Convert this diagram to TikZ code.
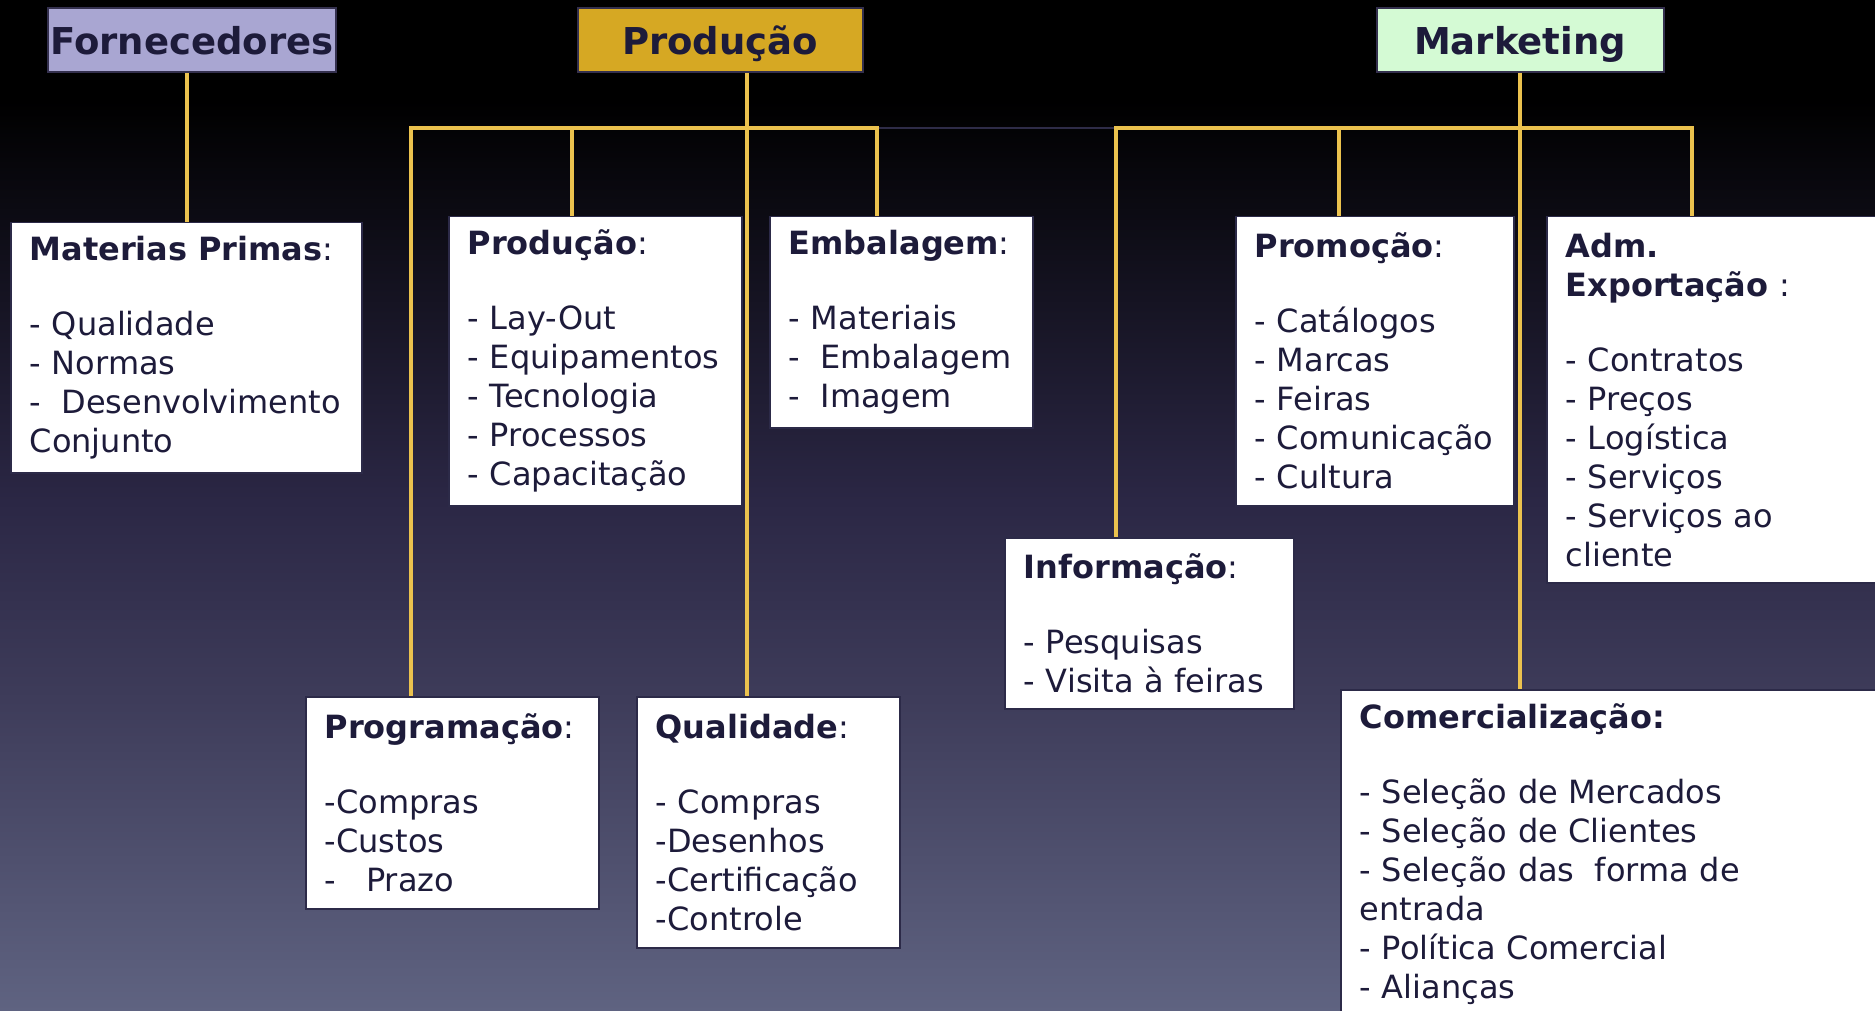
\documentclass[tikz,border=0pt]{standalone}
\usepackage{fontspec}
\setmainfont{DejaVu Sans}
\definecolor{ink}{HTML}{1D1B3A}
\definecolor{boxedge}{HTML}{2C2A48}
\definecolor{titleedge}{HTML}{34304E}
\definecolor{fornfill}{HTML}{A9A6D2}
\definecolor{prodfill}{HTML}{D6A823}
\definecolor{mktfill}{HTML}{D4FAD4}
\definecolor{linkyellow}{HTML}{EBC24E}
\definecolor{gapnavy}{HTML}{2E2C48}
\definecolor{bgtop}{HTML}{2B2745}
\definecolor{bgmid}{HTML}{3E3C5A}
\definecolor{bgbot}{HTML}{5F6381}
\pgfdeclareverticalshading{bgshade}{100bp}{color(0bp)=(bgbot); color(25bp)=(bgbot); color(40.4bp)=(bgmid); color(50.2bp)=(bgtop); color(70bp)=(black); color(100bp)=(black)}
\tikzset{
    title-box/.style = {draw=titleedge, line width=2pt, minimum height=64pt, inner sep=0pt, text height=34pt, text depth=4pt, text=ink, font=\fontsize{37}{40}\selectfont\bfseries},
    item-box/.style = {draw=boxedge, line width=1.5pt, fill=white, anchor=north west, align=left, inner xsep=19pt, inner ysep=0pt, text=ink, font=\fontsize{32}{39}\selectfont, execute at begin node={\hyphenpenalty=10000\exhyphenpenalty=10000}},
    link-line/.style = {draw=linkyellow, line width=4pt},
}

\begin{document}
\begin{tikzpicture}[x=1pt, y=-1pt]
\clip (0,0) rectangle (1875,1011);
\shade[shading=bgshade] (0,0) rectangle (1875,1011);

\node[title-box, fill=fornfill, minimum width=288pt] (forn) at (192,40) {Fornecedores};
\node[title-box, fill=prodfill, minimum width=285pt] (prodtop) at (720,40) {Produção};
\node[title-box, fill=mktfill, minimum width=287pt] (mkt) at (1520,40) {Marketing};

\node[item-box, text width=313pt, minimum height=250pt] (mat) at (10,222) {{\bfseries Materias Primas}:\\[36pt]
- Qualidade\\
- Normas\\
-~\kern0.3em Desenvolvimento\\
Conjunto};
\node[item-box, text width=255pt, minimum height=289pt] (prod) at (448,216) {{\bfseries Produção}:\\[36pt]
- Lay-Out\\
- Equipamentos\\
- Tecnologia\\
- Processos\\
- Capacitação};
\node[item-box, text width=225pt, minimum height=211pt] (emb) at (769,216) {{\bfseries Embalagem}:\\[36pt]
- Materiais\\
-~\kern0.3em Embalagem\\
-~\kern0.3em Imagem};
\node[item-box, text width=240pt, minimum height=289pt] (prom) at (1235,216) {{\bfseries Promoção}:\\[36pt]
- Catálogos\\
- Marcas\\
- Feiras\\
- Comunicação\\
- Cultura};
\node[item-box, text width=320pt, minimum height=366pt] (adm) at (1546,216) {{\bfseries Adm.}\\
{\bfseries Exportação} :\\[36pt]
- Contratos\\
- Preços\\
- Logística\\
- Serviços\\
- Serviços ao\\
cliente};
\node[item-box, text width=251pt, minimum height=171pt] (info) at (1004,537) {{\bfseries Informação}:\\[36pt]
- Pesquisas\\
- Visita à feiras};
\node[item-box, text width=255pt, minimum height=212pt] (prog) at (305,696) {{\bfseries Programação}:\\[36pt]
-Compras\\
-Custos\\
-~\kern0.6em Prazo};
\node[item-box, text width=225pt, minimum height=251pt] (qual) at (636,696) {{\bfseries Qualidade}:\\[36pt]
- Compras\\
-Desenhos\\
-Certificação\\
-Controle};
\node[item-box, text width=520pt, minimum height=328pt] (com) at (1340,689) {{\bfseries Comercialização:}\\[36pt]
- Seleção de Mercados\\
- Seleção de Clientes\\
- Seleção das~\kern0.3em forma de\\
entrada\\
- Política Comercial\\
- Alianças};

\coordinate (fT) at (187,128);
\coordinate (pL) at (411,128);
\coordinate (pM) at (572,128);
\coordinate (pT) at (747,128);
\coordinate (pR) at (877,128);
\coordinate (mL) at (1116,128);
\coordinate (mM) at (1339,128);
\coordinate (mR) at (1692,128);

\draw[gapnavy, line width=2pt] (pR) -- (mL);
\draw[link-line] (fT |- forn.south) -- (fT |- mat.north);
\draw[link-line] (pT |- prodtop.south) -- (pT |- qual.north);
\draw[link-line] (pL |- prog.north) -- (pL) -- (pR) -- (pR |- emb.north);
\draw[link-line] (pM) -- (pM |- prod.north);
\draw[link-line] (mkt.south) -- (mkt.south |- com.north);
\draw[link-line] (mL |- info.north) -- (mL) -- (mR) -- (mR |- adm.north);
\draw[link-line] (mM) -- (mM |- prom.north);
\end{tikzpicture}
\end{document}
